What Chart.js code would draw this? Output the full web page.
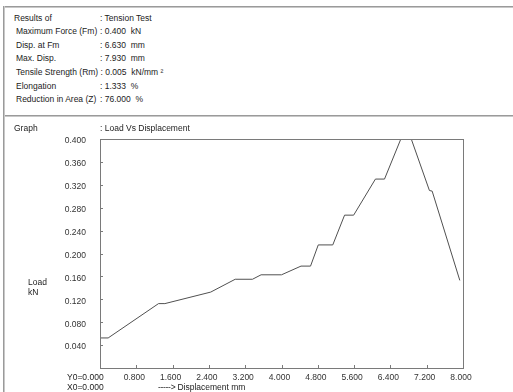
<!DOCTYPE html>
<html>
<head>
<meta charset="utf-8">
<script src="https://cdn.jsdelivr.net/npm/chart.js@4/dist/chart.umd.min.js"></script>
<style>
  html, body { margin: 0; padding: 0; background: #fff; }
  body { width: 513px; height: 392px; position: relative; overflow: hidden;
         font-family: "Liberation Sans", Arial, sans-serif; font-size: 8.5px; color: #222; }
  .t { position: absolute; white-space: pre; line-height: 10px; }
  .row { position: absolute; display: flex; white-space: pre; line-height: 10px; }
  .hl { position: absolute; height: 1px; background: #9a9a9a; border-bottom: 1px solid #c8c8c8; }
  .vl { position: absolute; width: 1px; background: #9a9a9a; border-right: 1px solid #c8c8c8; }
  #c { position: absolute; left: 0; top: 0; }
</style>
</head>
<body>
<div class="hl" style="left:3px; top:6px; width:510px;"></div>
<div class="hl" style="left:3px; top:115px; width:510px;"></div>
<div class="vl" style="left:3px; top:6px; height:386px;"></div>
<div id="info"></div>
<canvas id="c" width="513" height="392"></canvas>
<div class="t" style="left:14px; top:123px;">Graph</div>
<div class="t" style="left:100px; top:123px;">: Load Vs Displacement</div>
<div class="t" style="left:28px; top:277px;">Load</div>
<div class="t" style="left:28px; top:287px;">kN</div>
<div class="t" style="left:67px; top:372px;">Y0=0.000</div>
<div class="t" style="left:67px; top:382px;">X0=0.000</div>
<div class="t" style="left:158px; top:382px; letter-spacing:-0.3px;">-----&gt; <span style="letter-spacing:0">Displacement mm</span></div>
<script>
// Test summary rows
const infoLabels = ["Results of", "Maximum Force (Fm)", "Disp. at Fm", "Max. Disp.",
                    "Tensile Strength (Rm)", "Elongation", "Reduction in Area (Z)"];
const infoValues = [": Tension Test", ": 0.400  kN", ": 6.630  mm", ": 7.930  mm",
                    ": 0.005  kN/mm \u00b2", ": 1.333  %", ": 76.000  %"];

// Load vs displacement curve
const displacement = [0, 0.18, 1.29, 1.43, 2.44, 2.98, 3.36, 3.55, 4.00, 4.43, 4.64,
                      4.81, 5.13, 5.39, 5.59, 6.07, 6.27, 6.63, 6.86, 7.26, 7.32, 7.93];
const load = [0.0525, 0.0525, 0.1125, 0.1125, 0.1326, 0.155, 0.155, 0.1628, 0.1628, 0.178, 0.178,
              0.215, 0.215, 0.267, 0.267, 0.330, 0.330, 0.400, 0.400, 0.310, 0.309, 0.153];

// Axis ticks
const xTicks = [0, 0.8, 1.6, 2.4, 3.2, 4.0, 4.8, 5.6, 6.4, 7.2, 8.0];
const yTicks = [0, 0.04, 0.08, 0.12, 0.16, 0.20, 0.24, 0.28, 0.32, 0.36, 0.40];

const info = document.getElementById('info');
infoLabels.forEach((lab, i) => {
  const x = i === 0 ? 14 : 16;
  const row = document.createElement('div');
  row.className = 'row';
  row.style.left = x + 'px';
  row.style.top = (12.5 + i * 13.6) + 'px';
  const a = document.createElement('span');
  a.textContent = lab + ' ';
  a.style.minWidth = (100 - x) + 'px';
  a.style.display = 'inline-block';
  const b = document.createElement('span');
  b.textContent = infoValues[i];
  row.appendChild(a); row.appendChild(b);
  info.appendChild(row);
});

const fmt = v => (Math.abs(v) < 1e-9 ? '' : v.toFixed(3));

// Frame around the plot area plus inward tick marks
const framePlugin = {
  id: 'frame',
  afterDraw(chart) {
    const { ctx, chartArea: a, scales } = chart;
    ctx.save();
    ctx.strokeStyle = '#7a7a7a';
    ctx.lineWidth = 1;
    ctx.strokeRect(Math.round(a.left) + 0.5, Math.round(a.top) + 0.5,
                   Math.round(a.right - a.left), Math.round(a.bottom - a.top));
    ctx.beginPath();
    xTicks.slice(1, -1).forEach(v => {
      const px = Math.round(scales.x.getPixelForValue(v)) + 0.5;
      ctx.moveTo(px, a.bottom); ctx.lineTo(px, a.bottom - 3);
    });
    yTicks.slice(1, -1).forEach(v => {
      const py = Math.round(scales.y.getPixelForValue(v)) + 0.5;
      ctx.moveTo(a.left, py); ctx.lineTo(a.left + 3, py);
    });
    ctx.stroke();
    ctx.restore();
  }
};

new Chart(document.getElementById('c'), {
  type: 'scatter',
  data: {
    datasets: [{
      data: displacement.map((d, i) => ({ x: d, y: load[i] })),
      showLine: true,
      borderColor: '#505050',
      borderWidth: 1,
      pointRadius: 0,
      tension: 0,
      fill: false
    }]
  },
  options: {
    responsive: false,
    animation: false,
    devicePixelRatio: 1,
    layout: { padding: { left: 0, top: 139, right: 50, bottom: 0 } },
    plugins: { legend: { display: false }, tooltip: { enabled: false } },
    scales: {
      x: {
        type: 'linear', min: 0, max: 8,
        afterBuildTicks: s => { s.ticks = xTicks.map(v => ({ value: v })); },
        afterFit: s => { s.height = 24; },
        grid: { display: false, drawTicks: false },
        border: { display: false },
        ticks: { callback: fmt, padding: 5, labelOffset: -2, maxRotation: 0, autoSkip: false,
                 color: '#333', font: { family: 'Liberation Sans', size: 8.5 } }
      },
      y: {
        type: 'linear', min: 0, max: 0.4,
        afterBuildTicks: s => { s.ticks = yTicks.map(v => ({ value: v })); },
        afterFit: s => { s.width = 100; },
        grid: { display: false, drawTicks: false },
        border: { display: false },
        ticks: { callback: fmt, padding: 14, labelOffset: 2, autoSkip: false,
                 color: '#333', font: { family: 'Liberation Sans', size: 8.5 } }
      }
    }
  },
  plugins: [framePlugin]
});
</script>
</body>
</html>
